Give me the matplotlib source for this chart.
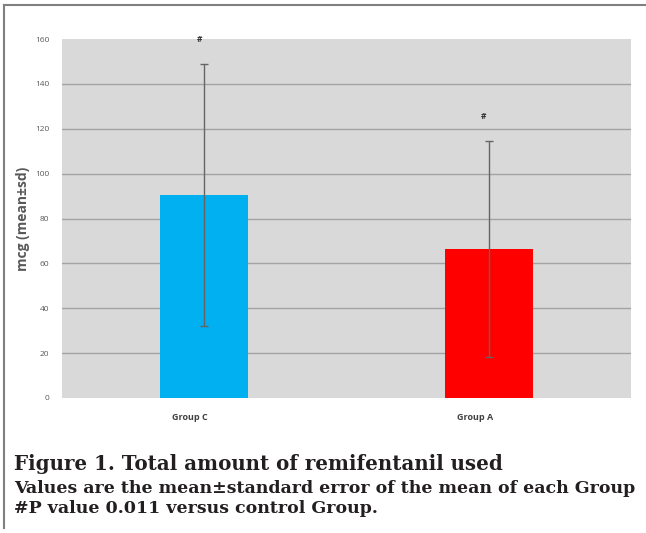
import numpy as np
import matplotlib
matplotlib.use('Agg')
import matplotlib.pyplot as plt
from matplotlib.lines import Line2D

# values
groups = ['Group C', 'Group A']
means = [90.4, 66.4]
sds = [58.3, 48.0]
bar_colors = ['#00B0F0', '#FF0000']
marks = ['#', '#']
yticks = [0, 20, 40, 60, 80, 100, 120, 140, 160]

caption_title = 'Figure 1. Total amount of remifentanil used'
caption_lines = ['Values are the mean\u00b1standard error of the mean of each Group',
                 '#P value 0.011 versus control Group.']

fig = plt.figure(figsize=(6.46, 5.33), dpi=100)
ax = fig.add_axes([62/646, 1 - 398/533, (631-62)/646, (398-39)/533])
ax.set_facecolor('#D9D9D9')

x = np.arange(len(groups))
ax.bar(x, means, width=0.31, color=bar_colors, zorder=3)
ax.errorbar(x, means, yerr=sds, fmt='none', ecolor='#656565', elinewidth=1.0,
            capsize=3, capthick=1.0, zorder=4)

for xi, m, s, t in zip(x, means, sds, marks):
    ax.annotate(t, (xi, m + s), xytext=(-5, 25), textcoords='offset pixels',
                ha='center', va='center', fontsize=6, fontweight='bold',
                color='#333333', family='Open Sans')

# group names sit a little left of the bars, as in the original
for xi, g in zip(x, groups):
    ax.annotate(g, (xi, 0), xytext=(-14, -20), textcoords='offset pixels',
                ha='center', va='center', fontsize=6.5, fontweight='bold',
                color='#404040', family='Open Sans', annotation_clip=False)

ax.set_xlim(-0.5, 1.5)
ax.set_ylim(0, 160)
ax.set_yticks(yticks)
ax.set_yticklabels([str(v) for v in yticks], fontsize=6, color='#595959',
                   family='Open Sans')
ax.set_xticks([])
ax.tick_params(axis='both', length=0)
ax.tick_params(axis='y', pad=9)

for v in yticks[1:-1]:
    ax.axhline(v, color='#A3A3A3', lw=1.0, zorder=1)
for sp in ax.spines.values():
    sp.set_visible(False)

ax.set_ylabel('mcg (mean\u00b1sd)', fontsize=10, fontweight='bold',
              color='#595959', family='Open Sans')
ax.yaxis.set_label_coords(-0.056, 0.5)

# frame lines on top and left of the panel
fig.add_artist(Line2D([4/646, 1], [1 - 5/533, 1 - 5/533], color='#808080', lw=1.5))
fig.add_artist(Line2D([4/646, 4/646], [1 - 5/533, 1 - 528/533], color='#808080', lw=1.5))

fig.text(14/646, 1 - 470/533, caption_title, fontsize=14.3, fontweight='bold',
         family='DejaVu Serif', color='#231F20', va='baseline')
for i, line in enumerate(caption_lines):
    fig.text(14/646, 1 - (493 + 20*i)/533, line, fontsize=12.5, fontweight='bold',
             family='DejaVu Serif', color='#231F20', va='baseline')

fig.savefig('out.png', dpi=100)
